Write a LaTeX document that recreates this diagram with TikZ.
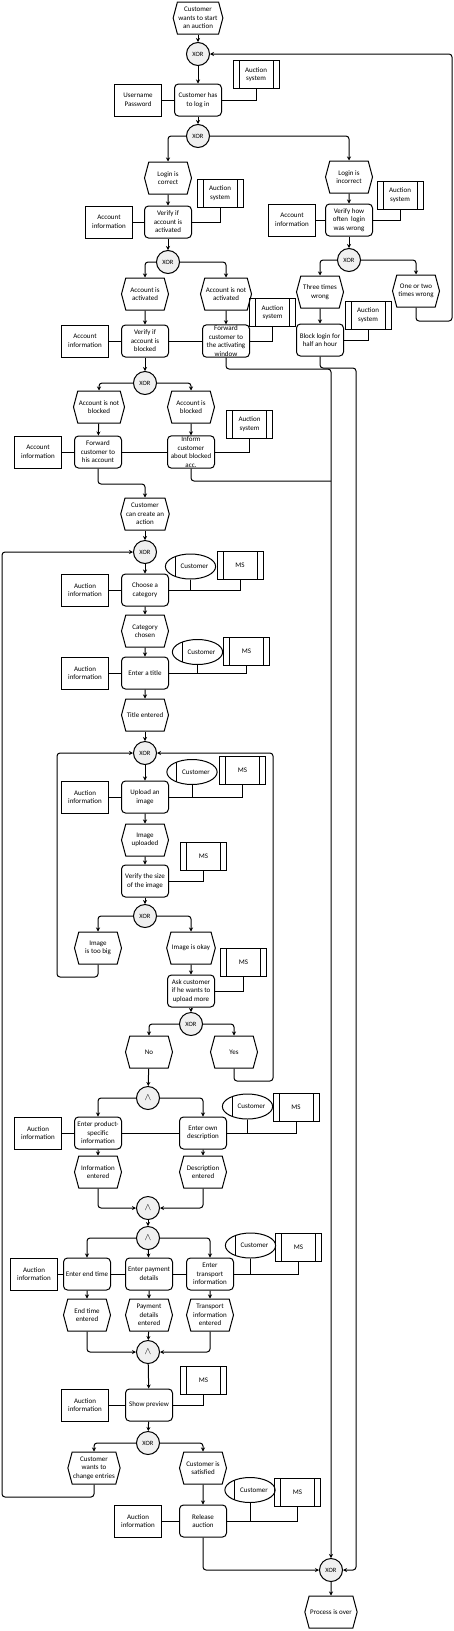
\documentclass[tikz,border=0pt]{standalone}
\usepackage{fontspec}
\setmainfont{Carlito}
\usetikzlibrary{arrows.meta, positioning, shapes.geometric, shapes.symbols}

\begin{document}
\begin{tikzpicture}[
    x=1pt, y=-1pt,
    font=\fontsize{7}{8.5}\selectfont,
    evbox/.style={draw, line width=1pt, signal, signal to=west and east,
        signal pointer angle=150, minimum width=47pt, minimum height=32pt,
        inner sep=1pt, align=center},
    fnbox/.style={draw, line width=1pt, rounded corners=4pt, minimum width=47pt,
        minimum height=32pt, inner sep=1pt, align=center},
    infobox/.style={draw, line width=1pt, minimum width=47pt, minimum height=32pt,
        inner sep=1pt, align=center},
    sysbox/.style={draw, line width=1pt, minimum width=46pt, minimum height=28pt,
        inner sep=1pt, align=center,
        path picture={\draw[line width=1pt]
            ([xshift=6pt]path picture bounding box.north west) --
            ([xshift=6pt]path picture bounding box.south west)
            ([xshift=-6pt]path picture bounding box.north east) --
            ([xshift=-6pt]path picture bounding box.south east);}},
    rolebox/.style={draw, line width=1pt, ellipse, minimum width=49pt,
        minimum height=25pt, inner sep=0pt,
        path picture={\draw[line width=1pt]
            ([xshift=10pt]path picture bounding box.north west) --
            ([xshift=10pt]path picture bounding box.south west);}},
    gate/.style={draw, line width=1pt, circle, fill=gray!12, minimum size=23pt,
        inner sep=0pt, font=\fontsize{6.5}{7}\selectfont},
    andgate/.style={gate, font=\fontsize{10}{10}\selectfont},
    arr/.style={-{Stealth[length=4pt, width=4pt]}, line width=1pt, rounded corners=3pt},
    lnk/.style={line width=1pt},
]
    \useasboundingbox (0,0) rectangle (454,1631);

    % login part
    \node[evbox] (start) at (198,18) {Customer\\wants to start\\an auction};
    \node[gate] (x1) at (198,54) {XOR};
    \node[fnbox] (login) at (198,100) {Customer has\\to log in};
    \node[infobox, left=12pt of login] (upw) {Username\\Password};
    \node[sysbox] (sysLogin) at (256,74.5) {Auction\\system};
    \node[gate] (x2) at (198,136) {XOR};

    % login correct
    \node[evbox] (evOk) at (168,178) {Login is\\correct};
    \node[sysbox] (sysAct) at (220,193) {Auction\\system};
    \node[fnbox] (chkAct) at (168,222) {Verify if\\account is\\activated};
    \node[infobox, left=11pt of chkAct] (infAct) {Account\\information};
    \node[gate] (x3) at (168,262) {XOR};
    \node[evbox] (evActiv) at (145,294) {Account is\\activated};
    \node[evbox] (evNotAct) at (226,294) {Account is not\\activated};
    \node[sysbox] (sysFwd) at (272.5,312.5) {Auction\\system};
    \node[fnbox] (chkBlk) at (145,341) {Verify if\\account is\\blocked};
    \node[infobox, left=12pt of chkBlk] (infBlk) {Account\\information};
    \node[fnbox] (fwdAct) at (226,341) {Forward\\customer to\\the activating\\window};

    % login incorrect
    \node[evbox] (evWrong) at (349,177) {Login is\\incorrect};
    \node[sysbox] (sysWrong) at (400,195) {Auction\\system};
    \node[fnbox] (chkWrong) at (349,220) {Verify how\\often~ login\\was wrong};
    \node[infobox, left=9pt of chkWrong] (infWrong) {Account\\information};
    \node[gate] (x4) at (349,260) {XOR};
    \node[evbox] (ev3) at (320,292) {Three times\\wrong};
    \node[evbox] (ev12) at (416,291) {One or two\\times wrong};
    \node[sysbox] (sysBlock) at (368,315) {Auction\\system};
    \node[fnbox] (blockLogin) at (320,340) {Block login for\\half an hour};

    % blocked or not
    \node[gate] (x5) at (145,383) {XOR};
    \node[evbox] (evNotBlk) at (99,407) {Account is not\\blocked};
    \node[evbox] (evBlk) at (191,407) {Account is\\blocked};
    \node[sysbox] (sysInf) at (249.5,424) {Auction\\system};
    \node[fnbox] (fwdAcc) at (98,452) {Forward\\customer to\\his account};
    \node[infobox, left=12pt of fwdAcc] (infAcc) {Account\\information};
    \node[fnbox] (inform) at (191,452) {Inform\\customer\\about blocked\\acc.};
    \node[evbox] (evCreate) at (145,514) {Customer\\can create an\\action};

    % category and title
    \node[gate] (x6) at (145,552) {XOR};
    \node[rolebox] (cust1) at (190.5,566.5) {\hspace*{8pt}Customer};
    \node[sysbox] (ms1) at (240,565) {MS};
    \node[fnbox] (cat) at (145,590) {Choose a\\category};
    \node[infobox, left=12pt of cat] (infCat) {Auction\\information};
    \node[evbox] (evCat) at (145,631) {Category\\chosen};
    \node[rolebox] (cust2) at (197.5,652) {\hspace*{8pt}Customer};
    \node[sysbox] (ms2) at (246.5,651) {MS};
    \node[fnbox] (title) at (145,673) {Enter a title};
    \node[infobox, left=12pt of title] (infTitle) {Auction\\information};
    \node[evbox] (evTitle) at (145,715) {Title entered};

    % images
    \node[gate] (x7) at (145,753) {XOR};
    \node[rolebox] (cust3) at (192,772) {\hspace*{8pt}Customer};
    \node[sysbox] (ms3) at (242.5,770.5) {MS};
    \node[fnbox] (upload) at (145,797) {Upload an\\image};
    \node[infobox, left=12pt of upload] (infUp) {Auction\\information};
    \node[evbox] (evUp) at (145,840) {Image\\uploaded};
    \node[sysbox] (ms4) at (203.5,856) {MS};
    \node[fnbox] (size) at (145,881) {Verify the size\\of the image};
    \node[gate] (x8) at (145,916) {XOR};
    \node[evbox] (evBig) at (98,948) {Image\\is too big};
    \node[evbox] (evOkay) at (191,948) {Image is okay};
    \node[sysbox] (ms5) at (243.5,962.5) {MS};
    \node[fnbox] (ask) at (191,991) {Ask customer\\if he wants to\\upload more};
    \node[gate] (x9) at (191,1024) {XOR};
    \node[evbox] (evNo) at (149,1052) {No};
    \node[evbox] (evYes) at (234,1052) {Yes};

    % product information
    \node[andgate] (a1) at (148,1098) {$\wedge$};
    \node[fnbox] (prod) at (98,1133) {Enter product-\\specific\\information};
    \node[infobox, left=12pt of prod] (infProd) {Auction\\information};
    \node[fnbox] (desc) at (203,1133) {Enter own\\description};
    \node[rolebox] (cust4) at (247.5,1106.5) {\hspace*{8pt}Customer};
    \node[sysbox] (ms6) at (296,1107.5) {MS};
    \node[evbox] (evInfo) at (98,1172) {Information\\entered};
    \node[evbox] (evDesc) at (203,1172) {Description\\entered};
    \node[andgate] (a2) at (148,1208) {$\wedge$};

    % time, payment, transport
    \node[andgate] (a3) at (148,1238) {$\wedge$};
    \node[fnbox] (endt) at (87,1274) {Enter end time};
    \node[infobox, left=5pt of endt] (infEnd) {Auction\\information};
    \node[fnbox] (pay) at (149,1274) {Enter payment\\details};
    \node[fnbox] (trans) at (210,1274) {Enter\\transport\\information};
    \node[rolebox] (cust5) at (250.5,1245.5) {\hspace*{8pt}Customer};
    \node[sysbox] (ms7) at (298.5,1247.5) {MS};
    \node[evbox] (evEnd) at (87,1315) {End time\\entered};
    \node[evbox] (evPay) at (149,1315) {Payment\\details\\entered};
    \node[evbox] (evTrans) at (210,1315) {Transport\\information\\entered};
    \node[andgate] (a4) at (148,1352) {$\wedge$};

    % preview and release
    \node[sysbox] (ms8) at (203.5,1380) {MS};
    \node[fnbox] (prev) at (149,1405) {Show preview};
    \node[infobox, left=16pt of prev] (infPrev) {Auction\\information};
    \node[gate] (x10) at (148,1443) {XOR};
    \node[evbox] (evChg) at (94,1468) {Customer\\wants to\\change entries};
    \node[evbox] (evSat) at (203,1468) {Customer is\\satisfied};
    \node[rolebox] (cust6) at (250,1490) {\hspace*{8pt}Customer};
    \node[sysbox] (ms9) at (297.5,1492) {MS};
    \node[fnbox] (rel) at (203,1521) {Release\\auction};
    \node[infobox, left=17pt of rel] (infRel) {Auction\\information};
    \node[gate] (xEnd) at (331,1570) {XOR};
    \node[evbox] (over) at (331,1612) {Process is over};

    % bends of the long connectors
    \coordinate (j1) at (145,484);
    \coordinate (lr) at (452,321);
    \coordinate (lf) at (331,369);
    \coordinate (lk) at (356,368);
    \coordinate (li) at (331,481);
    \coordinate (lb) at (57,977);
    \coordinate (ly) at (273,1081);
    \coordinate (lc) at (2,1497);

    % control flow
    \draw[arr] (start) -- (x1);
    \draw[arr] (x1) -- (login);
    \draw[arr] (login) -- (x2);
    \draw[arr] (x2) -| (evOk);
    \draw[arr] (x2) -| (evWrong);
    \draw[arr] (evOk) -- (chkAct);
    \draw[arr] (chkAct) -- (x3);
    \draw[arr] (x3) -| (evActiv);
    \draw[arr] (x3) -| (evNotAct);
    \draw[arr] (evActiv) -- (chkBlk);
    \draw[arr] (evNotAct) -- (fwdAct);
    \draw[arr] (evWrong) -- (chkWrong);
    \draw[arr] (chkWrong) -- (x4);
    \draw[arr] (x4) -| (ev3);
    \draw[arr] (x4) -| (ev12);
    \draw[arr] (ev3) -- (blockLogin);
    \draw[arr] (ev12) |- (lr) |- (x1);
    \draw[arr] (chkBlk) -- (x5);
    \draw[arr] (x5) -| (evNotBlk);
    \draw[arr] (x5) -| (evBlk);
    \draw[arr] (evNotBlk) -- (fwdAcc);
    \draw[arr] (evBlk) -- (inform);
    \draw[arr] (fwdAcc) |- (j1) -- (evCreate);
    \draw[arr] (evCreate) -- (x6);
    \draw[arr] (x6) -- (cat);
    \draw[arr] (cat) -- (evCat);
    \draw[arr] (evCat) -- (title);
    \draw[arr] (title) -- (evTitle);
    \draw[arr] (evTitle) -- (x7);
    \draw[arr] (x7) -- (upload);
    \draw[arr] (upload) -- (evUp);
    \draw[arr] (evUp) -- (size);
    \draw[arr] (size) -- (x8);
    \draw[arr] (x8) -| (evBig);
    \draw[arr] (x8) -| (evOkay);
    \draw[arr] (evBig) |- (lb) |- (x7);
    \draw[arr] (evOkay) -- (ask);
    \draw[arr] (ask) -- (x9);
    \draw[arr] (x9) -| (evNo);
    \draw[arr] (x9) -| (evYes);
    \draw[arr] (evYes) |- (ly) |- (x7);
    \draw[arr] (evNo) -- (a1);
    \draw[arr] (a1) -| (prod);
    \draw[arr] (a1) -| (desc);
    \draw[arr] (prod) -- (evInfo);
    \draw[arr] (desc) -- (evDesc);
    \draw[arr] (evInfo) |- (a2);
    \draw[arr] (evDesc) |- (a2);
    \draw[arr] (a2) -- (a3);
    \draw[arr] (a3) -| (endt);
    \draw[arr] (a3) -- (pay);
    \draw[arr] (a3) -| (trans);
    \draw[arr] (endt) -- (evEnd);
    \draw[arr] (pay) -- (evPay);
    \draw[arr] (trans) -- (evTrans);
    \draw[arr] (evEnd) |- (a4);
    \draw[arr] (evPay) -- (a4);
    \draw[arr] (evTrans) |- (a4);
    \draw[arr] (a4) -- (prev);
    \draw[arr] (prev) -- (x10);
    \draw[arr] (x10) -| (evChg);
    \draw[arr] (x10) -| (evSat);
    \draw[arr] (evChg) |- (lc) |- (x6);
    \draw[arr] (evSat) -- (rel);
    \draw[arr] (rel) |- (xEnd);
    \draw[arr] (fwdAct) |- (lf) -- (xEnd);
    \draw[arr] (blockLogin) |- (lk) |- (xEnd);
    \draw[lnk, rounded corners=3pt] (inform) |- (li);
    \draw[arr] (xEnd) -- (over);

    % resources
    \draw[lnk] (upw) -- (login) (login) -| (sysLogin);
    \draw[lnk] (infAct) -- (chkAct) (chkAct) -| (sysAct);
    \draw[lnk] (infWrong) -- (chkWrong) (chkWrong) -| (sysWrong);
    \draw[lnk] (infBlk) -- (chkBlk) (chkBlk) -- (fwdAct) (fwdAct) -| (sysFwd);
    \draw[lnk] (blockLogin) -| (sysBlock);
    \draw[lnk] (infAcc) -- (fwdAcc) (fwdAcc) -- (inform) (inform) -| (sysInf);
    \draw[lnk] (infCat) -- (cat) (cat) -| (ms1) (cust1) -- (cust1 |- cat);
    \draw[lnk] (infTitle) -- (title) (title) -| (ms2) (cust2) -- (cust2 |- title);
    \draw[lnk] (infUp) -- (upload) (upload) -| (ms3) (cust3) -- (cust3 |- upload);
    \draw[lnk] (size) -| (ms4);
    \draw[lnk] (ask) -| (ms5);
    \draw[lnk] (infProd) -- (prod) (prod) -- (desc) (desc) -| (ms6)
        (cust4) -- (cust4 |- desc);
    \draw[lnk] (infEnd) -- (endt) (endt) -- (pay) (pay) -- (trans) (trans) -| (ms7)
        (cust5) -- (cust5 |- trans);
    \draw[lnk] (infPrev) -- (prev) (prev) -| (ms8);
    \draw[lnk] (infRel) -- (rel) (rel) -| (ms9) (cust6) -- (cust6 |- rel);
\end{tikzpicture}
\end{document}
